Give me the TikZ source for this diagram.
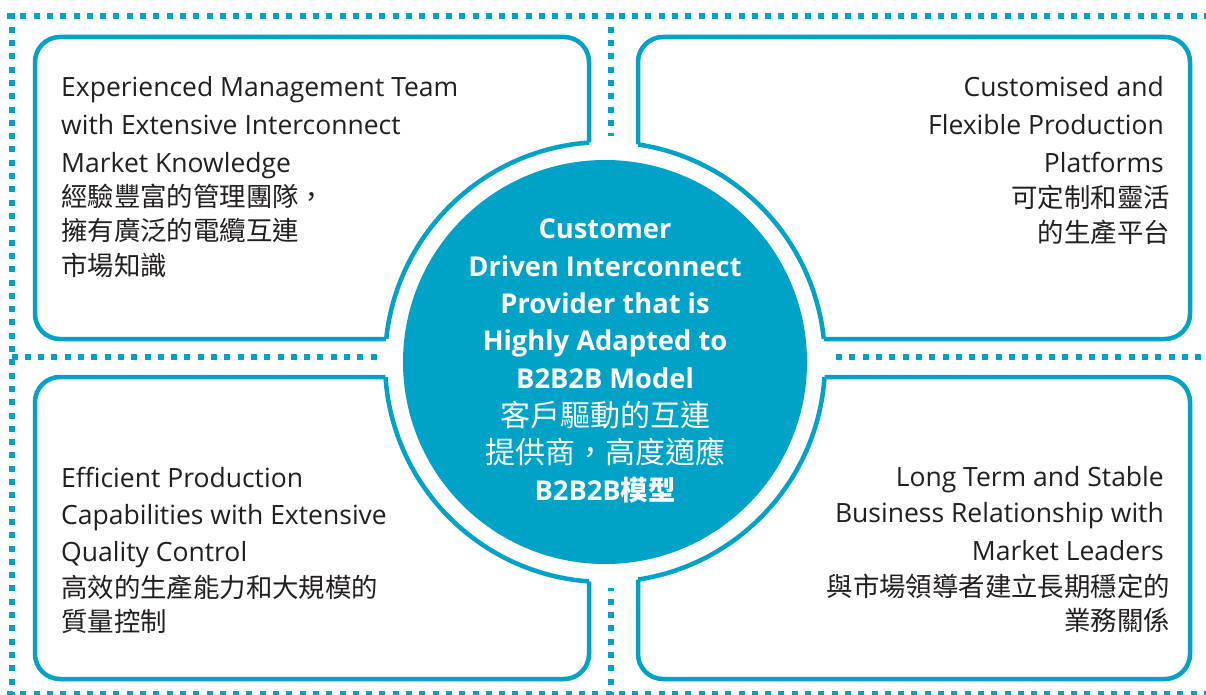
\documentclass[tikz,border=0pt]{standalone}
\usepackage{fontspec}
\setmainfont{Open Sans}
\newfontfamily\cjk{Noto Sans CJK TC}
\definecolor{brand}{RGB}{0,162,199}
\definecolor{ink}{RGB}{35,31,32}
\tikzset{
  dotline/.style={brand, line width=6pt, dash pattern=on 6pt off 7.3pt},
  boxline/.style={brand, line width=4.5pt},
  en/.style={text=ink, font=\fontsize{26.5}{30}\selectfont, inner sep=0pt},
  zh/.style={text=ink, font=\fontsize{26.4}{30}\selectfont\cjk, inner sep=0pt},
  cen/.style={text=white, font=\fontsize{27.3}{30}\selectfont\bfseries, inner sep=0pt, anchor=base},
  czh/.style={text=white, font=\fontsize{30}{30}\selectfont\cjk, inner sep=0pt, anchor=base},
}
\begin{document}
\begin{tikzpicture}[x=1pt,y=-1pt]
\useasboundingbox (0,0) rectangle (1206,695);
\fill[white] (0,0) rectangle (1206,695);
\coordinate (C) at (605,362);
% dotted frame lines
\draw[dotline] (7,16.5) -- (1212,16.5);
\draw[dotline] (11.5,13.5) -- (11.5,700);
\draw[dotline] (611,13.5) -- (611,700);
\draw[dotline] (11.5,357) -- (1212,357);
\draw[dotline] (7,694) -- (1212,694);
% white gap round the circle
\fill[white] (C) circle[radius=226];
% boxes
\draw[boxline, fill=white, rounded corners=25pt] (35,37) rectangle (589,339);
\draw[boxline, fill=white, rounded corners=25pt] (638,37) rectangle (1190,339);
\draw[boxline, fill=white, rounded corners=25pt] (35,377) rectangle (589,679);
\draw[boxline, fill=white, rounded corners=25pt] (638,377) rectangle (1190,679);
\fill[white] (C) circle[radius=220];
\begin{scope}
  \clip (35,37) rectangle (589,339) (638,37) rectangle (1190,339)
        (35,377) rectangle (589,679) (638,377) rectangle (1190,679);
  \draw[boxline] (C) circle[radius=220];
\end{scope}
\fill[brand] (C) circle[radius=202];
% top-left text
\node[en, anchor=base west] (tl1) at (61,97) {Experienced Management Team};
\node[en, anchor=base west] (tl2) at (61,135) {with Extensive Interconnect};
\node[en, anchor=base west] (tl3) at (61,172) {Market Knowledge};
\node[zh, anchor=base west] (tl4) at (61,206) {經驗豐富的管理團隊，};
\node[zh, anchor=base west] (tl5) at (61,240) {擁有廣泛的電纜互連};
\node[zh, anchor=base west] (tl6) at (61,275) {市場知識};
% top-right text
\node[en, anchor=base east] (tr1) at (1164,97) {Customised and};
\node[en, anchor=base east] (tr2) at (1164,135) {Flexible Production};
\node[en, anchor=base east] (tr3) at (1164,172) {Platforms};
\node[zh, anchor=base east] (tr4) at (1170,207) {可定制和靈活};
\node[zh, anchor=base east] (tr5) at (1170,242) {的生產平台};
% bottom-left text
\node[en, anchor=base west] (bl1) at (61,487) {Efficient Production};
\node[en, anchor=base west] (bl2) at (61,524) {Capabilities with Extensive};
\node[en, anchor=base west] (bl3) at (61,561) {Quality Control};
\node[zh, anchor=base west] (bl4) at (61,597) {高效的生產能力和大規模的};
\node[zh, anchor=base west] (bl5) at (61,631) {質量控制};
% bottom-right text
\node[en, anchor=base east] (br1) at (1164,486) {Long Term and Stable};
\node[en, anchor=base east] (br2) at (1164,522) {Business Relationship with};
\node[en, anchor=base east] (br3) at (1164,560) {Market Leaders};
\node[zh, anchor=base east] (br4) at (1170,596) {與市場領導者建立長期穩定的};
\node[zh, anchor=base east] (br5) at (1170,630) {業務關係};
% centre text
\node[cen] (c1) at (605,238) {Customer};
\node[cen] (c2) at (605,276) {Driven Interconnect};
\node[cen] (c3) at (605,313) {Provider that is};
\node[cen] (c4) at (605,350) {Highly Adapted to};
\node[cen] (c5) at (605,388) {B2B2B Model};
\node[czh] (c6) at (605,426) {客戶驅動的互連};
\node[czh] (c7) at (605,463) {提供商，高度適應};
\node[cen] (c8) at (605,500) {B2B2B{\cjk 模型}};
\end{tikzpicture}
\end{document}
